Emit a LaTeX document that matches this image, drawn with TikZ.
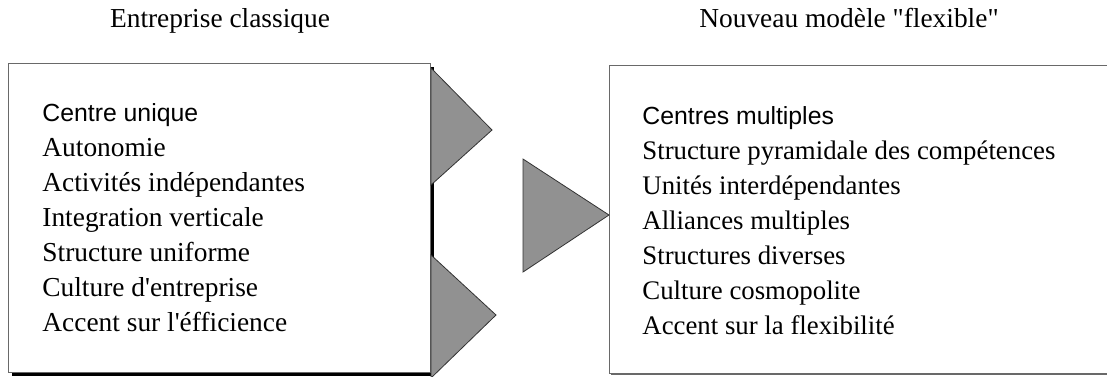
\documentclass[tikz,border=0pt]{standalone}
\usepackage{fontspec}
\setmainfont{Liberation Serif}
\setsansfont{Liberation Sans}
\usetikzlibrary{shadows}
\definecolor{trigray}{RGB}{145,145,145}
\definecolor{rimgray}{RGB}{105,105,105}

\begin{document}
\begin{tikzpicture}[x=0.5pt, y=-0.5pt,
  panel/.style={draw=rimgray, fill=white, line width=0.7pt, inner sep=0pt, anchor=north west},
  heading/.style={anchor=base, inner sep=0pt, font=\fontsize{13.7}{16}\selectfont},
  item/.style={anchor=base west, inner sep=0pt, font=\fontsize{13.7}{16}\selectfont},
  newitem/.style={item, font=\fontsize{13.4}{16}\selectfont},
  firstitem/.style={item, font=\sffamily\fontsize{12.4}{16}\selectfont},
  arrowtri/.style={fill=trigray, draw=black!80, line width=0.4pt}]
  \useasboundingbox (0,0) rectangle (1107,376);

  % titles
  \node[heading] (oldtitle) at (220,27) {Entreprise classique};
  \node[heading] (newtitle) at (849,27) {Nouveau modèle \textquotedbl flexible\textquotedbl};

  % boxes
  \node[panel, minimum width=211pt, minimum height=154.5pt,
        general shadow={fill=black, shadow xshift=1.6pt, shadow yshift=-1.6pt}] (oldbox) at (8,63) {};
  \node[panel, minimum width=262pt, minimum height=154pt,
        general shadow={fill=rimgray, shadow xshift=0.6pt, shadow yshift=-0.6pt}] (newbox) at (609,65) {};

  % left list
  \node[firstitem] (old1) at (42,121) {Centre unique};
  \foreach \txt [count=\i from 2] in {Autonomie, Activités indépendantes,
      Integration verticale, Structure uniforme, Culture d\textquotesingle entreprise,
      Accent sur l\textquotesingle éfficience}
    \node[item] (old\i) at (42,{121+35*(\i-1)}) {\txt};

  % right list
  \node[firstitem] (new1) at (642,124) {Centres multiples};
  \foreach \txt [count=\i from 2] in {Structure pyramidale des compétences,
      Unités interdépendantes, Alliances multiples, Structures diverses,
      Culture cosmopolite, Accent sur la flexibilité}
    \node[newitem] (new\i) at (642,{124+35*(\i-1)}) {\txt};

  % arrows
  \filldraw[arrowtri] (431,68) -- (492,130) -- (431,185) -- cycle;
  \filldraw[arrowtri] (431,255) -- (496,315) -- (431,378) -- cycle;
  \filldraw[arrowtri] (523,159) -- (609,215) -- (523,272) -- cycle;
\end{tikzpicture}
\end{document}
